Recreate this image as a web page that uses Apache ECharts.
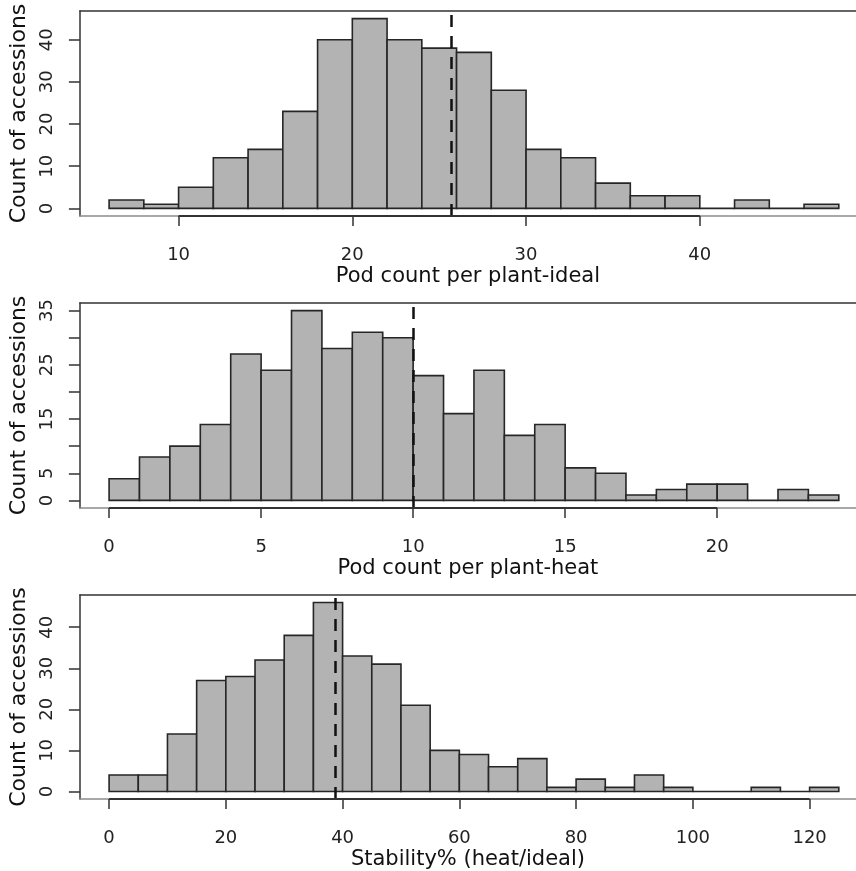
<!DOCTYPE html>
<html>
<head>
<meta charset="utf-8">
<script src="https://cdn.jsdelivr.net/npm/echarts@6/dist/echarts.min.js"></script>
<style>html,body{margin:0;padding:0;background:#fff}#c{width:856px;height:871px}</style>
</head>
<body>
<div id="c"></div>
<script>
// ---- data ----
const counts1 = [2, 1, 5, 12, 14, 23, 40, 45, 40, 38, 37, 28, 14, 12, 6, 3, 3, 0, 2, 0, 1];
const binStart1 = 6, binWidth1 = 2;
const mean1 = 25.7;
const xTicks1 = [10, 20, 30, 40];
const yTicks1 = [0, 10, 20, 30, 40];
const yLabels1 = [0, 10, 20, 30, 40];
const xTitle1 = 'Pod count per plant-ideal';

const counts2 = [4, 8, 10, 14, 27, 24, 35, 28, 31, 30, 23, 16, 24, 12, 14, 6, 5, 1, 2, 3, 3, 0, 2, 1];
const binStart2 = 0, binWidth2 = 1;
const mean2 = 10.0;
const xTicks2 = [0, 5, 10, 15, 20];
const yTicks2 = [0, 5, 10, 15, 20, 25, 30, 35];
const yLabels2 = [0, 5, 15, 25, 35];
const xTitle2 = 'Pod count per plant-heat';

const counts3 = [4, 4, 14, 27, 28, 32, 38, 46, 33, 31, 21, 10, 9, 6, 8, 1, 3, 1, 4, 1, 0, 0, 1, 0, 1];
const binStart3 = 0, binWidth3 = 5;
const mean3 = 38.8;
const xTicks3 = [0, 20, 40, 60, 80, 100, 120];
const yTicks3 = [0, 10, 20, 30, 40];
const yLabels3 = [0, 10, 20, 30, 40];
const xTitle3 = 'Stability% (heat/ideal)';

const yTitle = 'Count of accessions';

// ---- build ----
const FONT = 'DejaVu Sans';
const panels = [
  {counts: counts1, start: binStart1, w: binWidth1, mean: mean1, xt: xTicks1, yt: yTicks1, yl: yLabels1, title: xTitle1},
  {counts: counts2, start: binStart2, w: binWidth2, mean: mean2, xt: xTicks2, yt: yTicks2, yl: yLabels2, title: xTitle2},
  {counts: counts3, start: binStart3, w: binWidth3, mean: mean3, xt: xTicks3, yt: yTicks3, yl: yLabels3, title: xTitle3}
];
const tops = [11, 303, 595];
// full plot region is 789px wide but the picture is cropped at the right edge (777px visible)
const FULL_W = 789, VIS_W = 777;

const grid = [], xAxis = [], yAxis = [], series = [];
panels.forEach((p, i) => {
  const xLo = p.start, xHi = p.start + p.w * p.counts.length;
  const xPad = (xHi - xLo) * 0.04;
  const axMin = xLo - xPad;
  const axMax = axMin + (xHi - xLo + 2 * xPad) * VIS_W / FULL_W;
  const yMaxC = Math.max(...p.counts);
  const yMin = -yMaxC * 0.04, yMax = yMaxC * 1.04;
  grid.push({left: 79, top: tops[i], width: VIS_W, height: 205, containLabel: false});
  // bottom axis
  xAxis.push({
    type: 'value', gridIndex: i, min: axMin, max: axMax, position: 'bottom',
    axisLine: {show: true, onZero: false, lineStyle: {color: '#8c8c8c', width: 1.5}},
    axisTick: {show: true, customValues: p.xt, length: 10, lineStyle: {color: '#333', width: 1.5}},
    axisLabel: {show: true, customValues: p.xt, fontSize: 18, margin: 30, color: '#222', fontFamily: FONT},
    splitLine: {show: false},
    name: p.title, nameLocation: 'middle', nameGap: 50,
    nameTextStyle: {fontSize: 21, color: '#111', fontFamily: FONT}
  });
  // top border
  xAxis.push({
    type: 'value', gridIndex: i, min: axMin, max: axMax, position: 'top',
    axisLine: {show: true, onZero: false, lineStyle: {color: '#333', width: 1.5}},
    axisTick: {show: false}, axisLabel: {show: false}, splitLine: {show: false}
  });
  yAxis.push({
    type: 'value', gridIndex: i, min: yMin, max: yMax,
    axisLine: {show: true, onZero: false, lineStyle: {color: '#333', width: 1.5}},
    axisTick: {show: true, customValues: p.yt, length: 11, lineStyle: {color: '#333', width: 1.5}},
    axisLabel: {show: true, customValues: p.yl, rotate: 90, fontSize: 18, margin: 24, color: '#222', fontFamily: FONT},
    splitLine: {show: false},
    name: yTitle, nameLocation: 'middle', nameRotate: 90, nameGap: 48,
    nameTextStyle: {fontSize: 22, color: '#111', fontFamily: FONT}
  });
  const data = p.counts.map((c, k) => [p.start + k * p.w, p.start + (k + 1) * p.w, c]);
  series.push({
    type: 'custom', xAxisIndex: i * 2, yAxisIndex: i, data: data, clip: false,
    encode: {x: [0, 1], y: 2},
    renderItem: function (params, api) {
      const a = api.coord([api.value(0), api.value(2)]);
      const b = api.coord([api.value(1), 0]);
      return {type: 'rect', shape: {x: a[0], y: a[1], width: b[0] - a[0], height: b[1] - a[1]},
        style: {fill: '#b3b3b3', stroke: '#262626', lineWidth: 1.6}};
    },
    markLine: {
      silent: true, symbol: 'none', animation: false, label: {show: false},
      data: [
        {xAxis: p.mean, lineStyle: {color: '#111', width: 2.5, type: [12, 9]}},
        [{coord: [p.xt[0], yMin], lineStyle: {color: '#333', width: 2, type: 'solid'}}, {coord: [p.xt[p.xt.length - 1], yMin]}]
      ]
    }
  });
});

const chart = echarts.init(document.getElementById('c'), null, {renderer: 'canvas'});
chart.setOption({animation: false, backgroundColor: '#fff', grid, xAxis, yAxis, series});
</script>
</body>
</html>
